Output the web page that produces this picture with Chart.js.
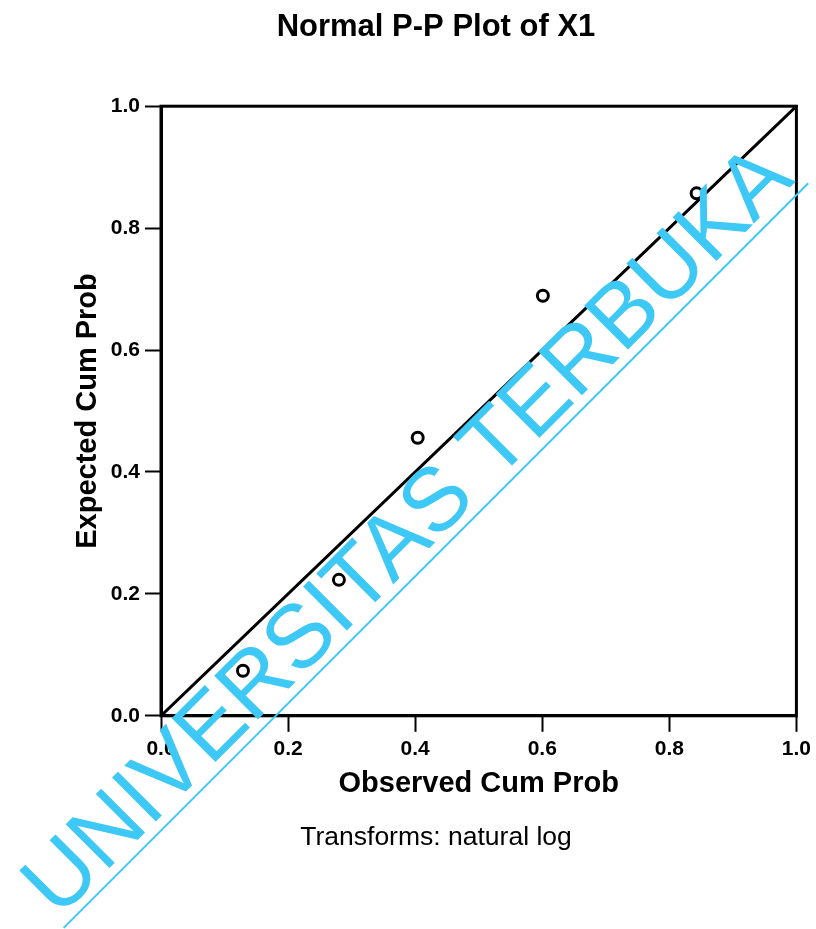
<!DOCTYPE html>
<html>
<head>
<meta charset="utf-8">
<script src="https://cdn.jsdelivr.net/npm/chart.js@4.4.0/dist/chart.umd.min.js"></script>
<style>
  html, body { margin: 0; padding: 0; background: #fff; }
  canvas { display: block; }
</style>
</head>
<body>
<canvas id="ppPlot" width="816" height="929"></canvas>
<script>
// observed vs expected cumulative probabilities
const observed = [0.129, 0.280, 0.404, 0.601, 0.843];
const expected = [0.074, 0.223, 0.456, 0.689, 0.857];
// reference diagonal
const refX = [0, 1];
const refY = [0, 1];
const tickValues = [0, 0.2, 0.4, 0.6, 0.8, 1.0];
const watermark = 'UNIVERSITAS TERBUKA';

Chart.defaults.font.family = '"Liberation Sans", Arial, Helvetica, sans-serif';
Chart.defaults.color = '#000';

// box around the plot (top + right sides)
const frame = {
    id: 'frame',
    beforeDatasetsDraw(chart) {
        const a = chart.chartArea;
        const ctx = chart.ctx;
        ctx.save();
        ctx.strokeStyle = '#000';
        ctx.lineWidth = 3;
        ctx.strokeRect(a.left, a.top, a.right - a.left, a.bottom - a.top);
        ctx.restore();
    }
};

// diagonal watermark text
const stamp = {
    id: 'stamp',
    afterDraw(chart) {
        const ctx = chart.ctx;
        ctx.save();
        ctx.translate(425, 551);
        ctx.rotate(-Math.PI / 4);
        ctx.fillStyle = '#3ec8f6';
        ctx.font = '90px "Liberation Sans", Arial, sans-serif';
        ctx.textAlign = 'center';
        ctx.textBaseline = 'alphabetic';
        ctx.fillText(watermark, 2, 1);
        ctx.fillRect(-522, 10, 1053, 2);
        ctx.restore();
    }
};

const tickFmt = v => Number(v).toFixed(1);

const config = {
    type: 'scatter',
    data: {
        datasets: [
            {
                label: 'Observed',
                data: observed.map((x, i) => ({x: x, y: expected[i]})),
                pointStyle: 'circle',
                pointRadius: 5.5,
                pointBorderWidth: 3,
                pointBorderColor: '#000',
                pointBackgroundColor: '#fff',
                showLine: false
            },
            {
                label: 'Reference',
                data: refX.map((x, i) => ({x: x, y: refY[i]})),
                showLine: true,
                borderColor: '#000',
                borderWidth: 3,
                pointRadius: 0
            }
        ]
    },
    options: {
        responsive: false,
        animation: false,
        layout: { padding: { left: 75, right: 19, top: 0, bottom: 0 } },
        plugins: {
            legend: { display: false },
            tooltip: { enabled: false },
            title: {
                display: true,
                text: 'Normal P-P Plot of X1',
                font: { size: 31, weight: 'bold' },
                padding: { top: 9, bottom: 60 }
            },
            subtitle: {
                display: true,
                position: 'bottom',
                text: 'Transforms: natural log',
                font: { size: 26.5, weight: 'normal' },
                padding: { top: 21, bottom: 75 }
            }
        },
        scales: {
            x: {
                type: 'linear',
                min: 0,
                max: 1,
                afterFit: s => { s.height = 85.4; },
                afterBuildTicks: s => { s.ticks = tickValues.map(v => ({value: v})); },
                border: { display: true, color: '#000', width: 3 },
                grid: { drawOnChartArea: false, drawTicks: true, tickLength: 16, tickWidth: 2, tickColor: '#000' },
                ticks: { callback: tickFmt, padding: 5, font: { size: 21, weight: 'bold' }, maxRotation: 0 },
                title: { display: true, text: 'Observed Cum Prob', font: { size: 29, weight: 'bold' }, padding: { top: 0, bottom: 0 } }
            },
            y: {
                type: 'linear',
                min: 0,
                max: 1,
                afterFit: s => { s.width = 86; },
                afterBuildTicks: s => { s.ticks = tickValues.map(v => ({value: v})); },
                border: { display: true, color: '#000', width: 3 },
                grid: { drawOnChartArea: false, drawTicks: true, tickLength: 16, tickWidth: 2, tickColor: '#000' },
                ticks: { callback: tickFmt, padding: 5, font: { size: 21, weight: 'bold' } },
                title: { display: true, text: 'Expected Cum Prob', font: { size: 29, weight: 'bold' }, padding: { top: -4, bottom: 0 } }
            }
        }
    },
    plugins: [frame, stamp]
};

const chart = new Chart(document.getElementById('ppPlot'), config);
</script>
</body>
</html>
